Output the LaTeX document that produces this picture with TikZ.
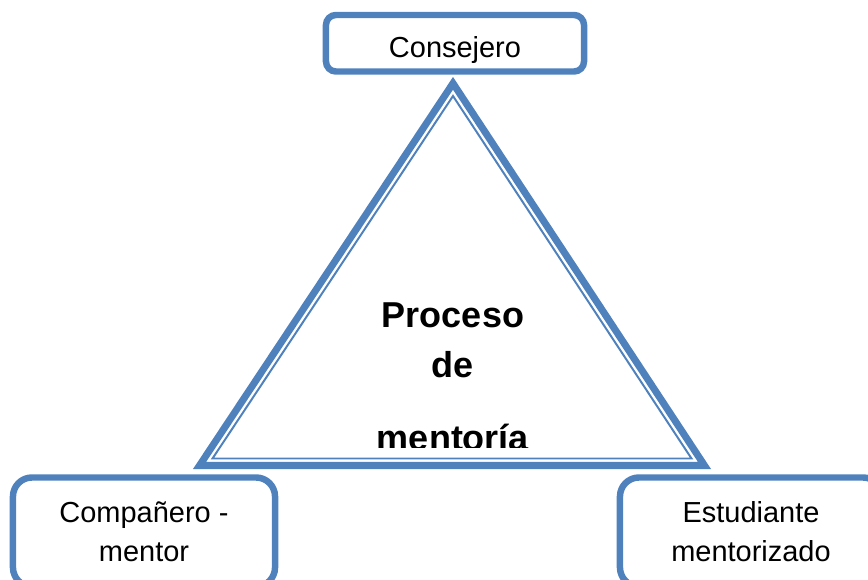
\documentclass[tikz,border=0pt]{standalone}
\usepackage{fontspec}
\setmainfont{Liberation Sans}
\definecolor{roleblue}{RGB}{79,129,189}

\begin{document}
\begin{tikzpicture}[x=0.025cm,y=-0.025cm,
  rolebox/.style={draw=roleblue, line width=4.6pt, rounded corners=0.475cm,
    align=center, inner sep=0pt, font=\fontsize{20.6}{27.7}\selectfont,
    minimum width=6.55cm, minimum height=2.725cm},
  proctext/.style={anchor=base, inner sep=0pt, font=\fontsize{25.6}{30}\selectfont\bfseries}]
  \useasboundingbox (0,0) rectangle (868,579);
  \draw[roleblue, line width=5pt] (453,83.3) -- (199.5,465.5) -- (704.5,465.5) -- cycle;
  \draw[roleblue, line width=1.4pt] (453,96) -- (212.5,458.5) -- (691.5,458.5) -- cycle;
  \node[rolebox, minimum width=6.45cm, minimum height=1.4125cm, rounded corners=0.25cm,
    text height=0.725cm, text depth=0pt] (consejero) at (455,43.25) {Consejero};
  \node[rolebox] (companero) at (144,532) {Compañero -\\mentor};
  \node[rolebox] (estudiante) at (751,532) {Estudiante\\mentorizado};
  \node[proctext] (proceso) at (453,327) {Proceso};
  \node[proctext] (de) at (453,377) {de};
  \begin{scope}
    \clip (370,400) rectangle (540,447.5);
    \node[proctext] (mentoria) at (453,450) {mentoría};
  \end{scope}
\end{tikzpicture}
\end{document}
